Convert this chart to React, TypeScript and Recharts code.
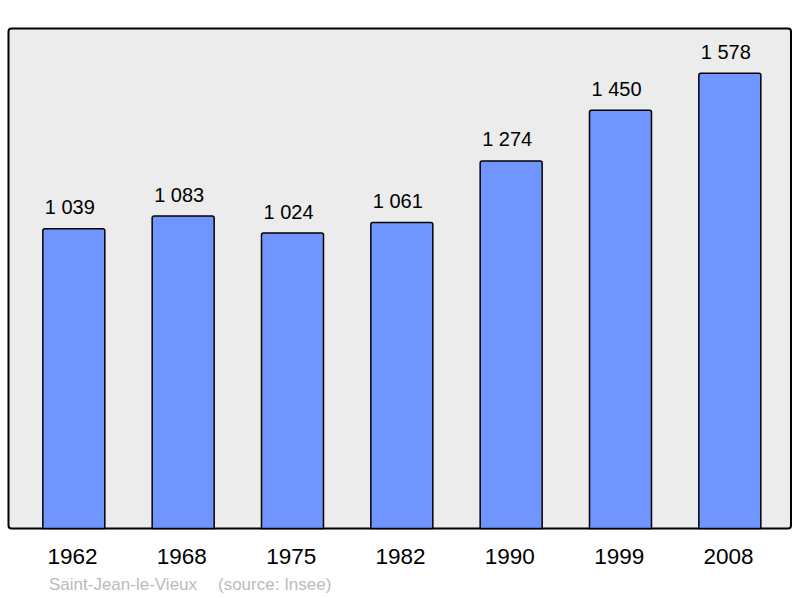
import React from 'react';
import { BarChart, Bar, XAxis, YAxis, LabelList } from 'recharts';

const years = ['1962', '1968', '1975', '1982', '1990', '1999', '2008'];
const population = [1039, 1083, 1024, 1061, 1274, 1450, 1578];
const townName = 'Saint-Jean-le-Vieux';
const sourceText = '(source: Insee)';

const data = years.map((y, i) => ({ year: y, pop: population[i] }));

const FONT = '"Liberation Sans", Arial, sans-serif';

const formatPop = (v: number) => {
  const s = String(v);
  return s.length > 3 ? s.slice(0, s.length - 3) + ' ' + s.slice(s.length - 3) : s;
};

const XTick = (props: any) => {
  const { x, y, payload } = props;
  return (
    <text x={x - 1} y={y + 27.5} textAnchor="middle" fontFamily={FONT} fontSize={22.5} fill="#000">
      {payload.value}
    </text>
  );
};

export default function App() {
  return (
    <div style={{ position: 'absolute', left: 0, top: 0, width: 800, height: 598, background: '#fff' }}>
      <svg width={800} height={598} style={{ position: 'absolute', left: 0, top: 0 }}>
        <rect x={8.5} y={28.5} width={782.5} height={500} rx={3} ry={3} fill="#ececec" stroke="#000" strokeWidth={2} />
        <text x={49} y={590} fontFamily={FONT} fontSize={17} fill="#bbbbbb">{townName}</text>
        <text x={218} y={590} fontFamily={FONT} fontSize={17} fill="#bbbbbb">{sourceText}</text>
      </svg>
      <div style={{ position: 'absolute', left: 0, top: 0 }}>
        <BarChart
          width={800}
          height={598}
          data={data}
          margin={{ top: 28.5, right: 15.83, bottom: 0, left: 18.83 }}
        >
          <XAxis
            dataKey="year"
            axisLine={false}
            tickLine={false}
            tick={<XTick />}
            height={69.5}
            interval={0}
          />
          <YAxis hide domain={[0, 1733]} />
          <Bar
            dataKey="pop"
            fill="#7095ff"
            stroke="#000"
            strokeWidth={1.5}
            barSize={62}
            radius={[2, 2, 0, 0]}
            isAnimationActive={false}
          >
            <LabelList
              dataKey="pop"
              position="top"
              offset={14.5}
              formatter={(v: any) => formatPop(Number(v))}
              style={{ fontFamily: FONT, fontSize: 20, fill: '#000' }}
              dx={-4}
            />
          </Bar>
        </BarChart>
      </div>
    </div>
  );
}
